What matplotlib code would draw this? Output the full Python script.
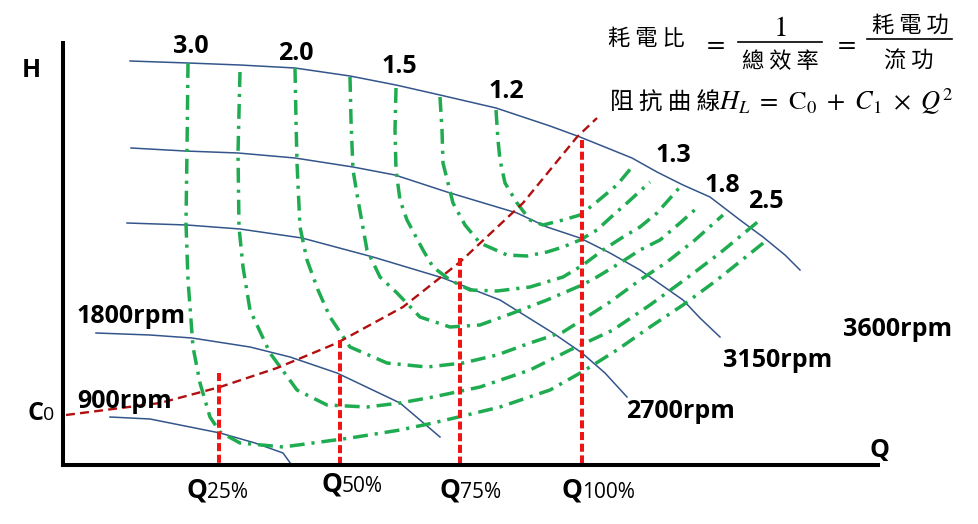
import matplotlib
matplotlib.use("Agg")
import matplotlib.pyplot as plt

plt.rcParams['font.family'] = ['Open Sans', 'DejaVu Sans']
plt.rcParams['mathtext.fontset'] = 'stix'

## pump curves, Q and H (picture units, H grows downward)
c3600_q = [130, 188, 240, 295, 350, 396, 440, 496, 550, 580, 632, 657, 683, 710, 740, 763, 785, 800]
c3600_h = [61, 63, 65, 68, 76, 85, 95, 108, 126, 137, 158, 172, 185, 197, 220, 237, 255, 270]
c3150_q = [131, 185, 238, 295, 353, 395, 447, 517, 547, 580, 610, 640, 683, 700, 720]
c3150_h = [148, 151, 153, 158, 167, 175, 192, 213, 227, 238, 253, 270, 300, 318, 337]
c2700_q = [127, 187, 240, 302, 373, 443, 500, 553, 582, 605, 627]
c2700_h = [223, 225, 229, 238, 257, 278, 300, 333, 353, 373, 397]
c1800_q = [96, 150, 192, 250, 290, 337, 400, 440]
c1800_h = [333, 335, 338, 347, 357, 373, 403, 437]
c900_q = [110, 150, 220, 255, 283, 291]
c900_h = [417, 419, 433, 443, 453, 464]

## iso power-ratio curves (green)
g1_q = [496, 498, 500, 505, 517, 530, 543, 563, 580, 593, 617, 632]
g1_h = [110, 140, 160, 183, 203, 220, 225, 220, 215, 205, 185, 167]
g2_q = [440, 442, 443, 453, 465, 480, 507, 527, 547, 563, 580, 597, 610, 627, 650]
g2_h = [97, 130, 163, 203, 225, 243, 255, 256, 252, 247, 240, 230, 218, 203, 182]
g3_q = [396, 395, 396, 400, 407, 423, 433, 450, 470, 497, 530, 563, 583, 603, 623, 640, 657, 680]
g3_h = [88, 130, 170, 200, 220, 250, 267, 280, 290, 291, 287, 277, 265, 250, 237, 227, 213, 187]
g4_q = [350, 351, 353, 358, 367, 380, 397, 420, 450, 480, 513, 547, 582, 597, 620, 640, 660, 680, 698]
g4_h = [77, 120, 170, 200, 250, 277, 293, 317, 327, 325, 313, 300, 285, 277, 263, 250, 240, 223, 207]
g5_q = [295, 296, 297, 300, 307, 318, 330, 350, 387, 427, 463, 497, 530, 563, 582, 610, 640, 667, 695, 723]
g5_h = [68, 120, 163, 227, 260, 290, 317, 347, 363, 367, 363, 355, 343, 332, 320, 302, 280, 262, 240, 215]
g6_q = [240, 238, 239, 243, 250, 270, 297, 327, 367, 400, 433, 480, 530, 570, 613, 650, 687, 720, 760]
g6_h = [72, 153, 227, 267, 310, 353, 390, 405, 407, 403, 397, 387, 370, 350, 330, 305, 278, 253, 220]
g7_q = [188, 187, 186, 188, 193, 200, 210, 220, 240, 283, 350, 400, 433, 467, 500, 550, 582, 617, 650, 683, 717, 767]
g7_h = [63, 150, 223, 280, 347, 383, 417, 432, 443, 447, 438, 430, 423, 415, 407, 390, 372, 350, 327, 305, 280, 240]

## system (resistance) curve
sys_q = [66, 160, 220, 277, 337, 403, 460, 523, 577, 597]
sys_h = [415, 403, 387, 368, 343, 307, 262, 203, 137, 118]

## flow marks Q25..Q100
mark_q = [219, 340, 460, 582]
mark_top = [373, 340, 258, 140]
mark_names = ["25%", "50%", "75%", "100%"]

rpm_labels = ["1800rpm", "900rpm", "2700rpm", "3150rpm", "3600rpm"]
ratio_labels = ["3.0", "2.0", "1.5", "1.2", "1.3", "1.8", "2.5"]

fig = plt.figure(figsize=(9.79, 5.24), dpi=100)
ax = fig.add_axes([63/979, 59/524, (878-63)/979, (465-43)/524])
ax.set_xlim(63, 878)
ax.set_ylim(465, 43)
ax.set_xticks([])
ax.set_yticks([])
for s in ['top', 'right']:
    ax.spines[s].set_visible(False)
for s in ['left', 'bottom']:
    ax.spines[s].set_linewidth(2.9)

blue = "#34558b"
for q, h in [(c3600_q, c3600_h), (c3150_q, c3150_h), (c2700_q, c2700_h),
             (c1800_q, c1800_h), (c900_q, c900_h)]:
    ax.plot(q, h, color=blue, lw=1.1)

green = "#1fab50"
for q, h in [(g1_q, g1_h), (g2_q, g2_h), (g3_q, g3_h), (g4_q, g4_h),
             (g5_q, g5_h), (g6_q, g6_h), (g7_q, g7_h)]:
    ax.plot(q, h, color=green, lw=2.5, linestyle=(0, (4.3, 2, 0.9, 2)))

ax.plot(sys_q, sys_h, color="#b01010", lw=1.7, linestyle=(0, (3.8, 2.2)))
for q, t in zip(mark_q, mark_top):
    ax.plot([q, q], [t, 465], color="#f01515", lw=2.9, linestyle=(0, (2, 0.9)))

## labels
bold = dict(fontsize=18, fontweight='bold', color='black')
ax.text(22, 77, "H", **bold)
ax.text(870, 457, "Q", **bold)
ax.text(27, 420, "C", **bold)
ax.text(43, 420, "0", fontsize=14)

rpm_x = [76, 77, 626, 723, 843]
rpm_y = [323, 408, 418, 367, 336]
for lab, x, y in zip(rpm_labels, rpm_x, rpm_y):
    ax.text(x, y, lab, **bold)

ratio_x = [173, 278, 382, 489, 656, 705, 748]
ratio_y = [53, 60, 73, 98, 162, 192, 208]
for lab, x, y in zip(ratio_labels, ratio_x, ratio_y):
    ax.text(x, y, lab, **bold)

mark_split = [207, 342, 460, 582]
mark_y = [498, 492, 498, 498]
for x, name, y in zip(mark_split, mark_names, mark_y):
    ax.text(x, y, "Q", fontsize=19, fontweight='bold', ha='right')
    ax.text(x, y, name, fontsize=15, ha='left')

## formulas
cjk = ['Noto Sans CJK TC', 'DejaVu Sans']
ax.text(646, 45, "耗 電 比", family=cjk, fontsize=16, ha='center')
ax.text(714, 50, "$=$", fontsize=19, ha='center')
ax.text(780, 36, "$1$", fontsize=21, ha='center')
ax.plot([738, 822], [42, 42], color='black', lw=1.2, clip_on=False)
ax.text(780, 68, "總 效 率", family=cjk, fontsize=16, ha='center')
ax.text(845, 50, "$=$", fontsize=19, ha='center')
ax.text(910, 32, "耗 電 功", family=cjk, fontsize=16, ha='center')
ax.plot([867, 952], [39, 39], color='black', lw=1.2, clip_on=False)
ax.text(909, 68, "流 功", family=cjk, fontsize=16, ha='center')

ax.text(665, 110, "阻 抗 曲 線", family=cjk, fontsize=17, ha='center')
ax.text(719, 110, r"$H_L\ =\ \mathrm{C}_0\ +\ C_1\ \times\ Q^2$", fontsize=19)

fig.savefig("out.png", dpi=100)
